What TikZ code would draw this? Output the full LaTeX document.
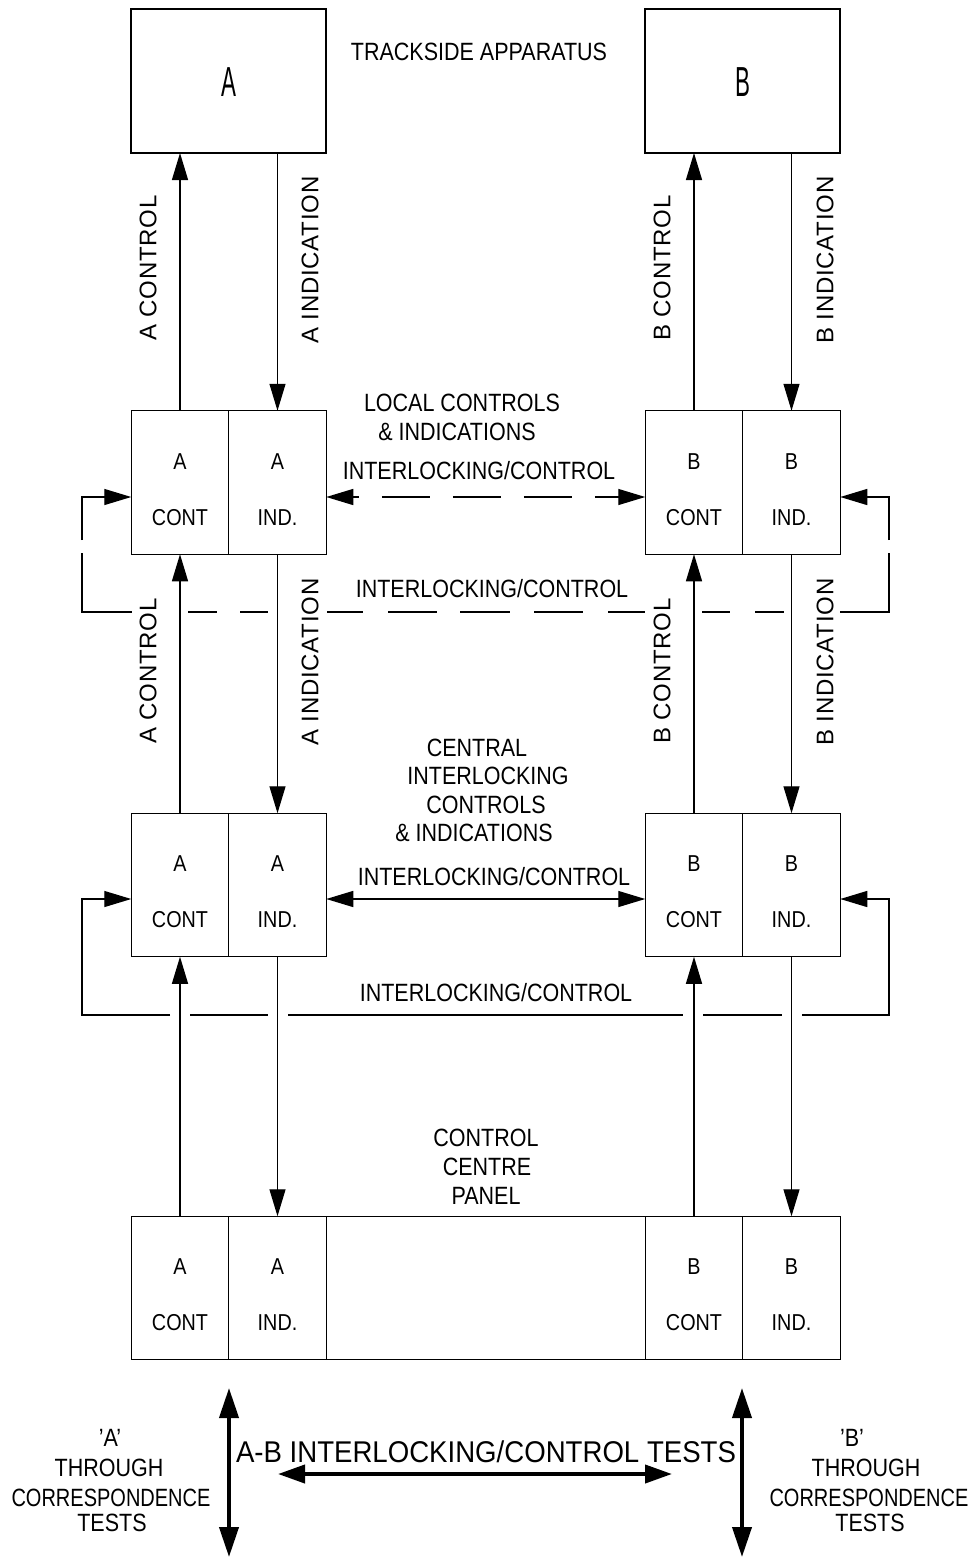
\documentclass[tikz,border=0pt]{standalone}
\usepackage{fontspec}
\usepackage{graphicx}
\setmainfont{Liberation Sans}[FakeStretch=0.86]
\newfontfamily\widefont{Liberation Sans}[LetterSpace=3]
\newfontfamily\bigfont{Liberation Sans}[FakeStretch=0.92]
\newfontfamily\narrowfont{Liberation Sans}[FakeStretch=0.8]
\usetikzlibrary{arrows.meta}
\tikzset{
  ln/.style={line width=1.3pt, black},
  arr/.style={ln, -{Triangle[length=27pt,width=16pt]}},
  darr/.style={ln, {Triangle[length=27pt,width=16pt]}-{Triangle[length=27pt,width=16pt]}},
  thick arr/.style={line width=4pt, {Triangle[length=30pt,width=19pt]}-{Triangle[length=30pt,width=19pt]}},
  bigbox/.style={draw, line width=1.3pt, minimum width=195pt, minimum height=144pt, inner sep=0pt, outer sep=0pt},
  cellbox/.style={draw, line width=1.3pt, minimum width=97.5pt, minimum height=143.5pt, inner sep=0pt, outer sep=0pt},
  lab/.style={inner sep=0pt, font=\fontsize{25}{28}\selectfont},
  nlab/.style={inner sep=0pt, font=\narrowfont\fontsize{25}{28}\selectfont},
  celltxt/.style={inner sep=0pt, font=\fontsize{23}{26}\selectfont},
  vlab/.style={inner sep=0pt, rotate=90, font=\widefont\fontsize{24}{27}\selectfont},
  biglab/.style={inner sep=0pt, font=\bigfont\fontsize{30}{33}\selectfont},
}
\newcommand\mkcell[4]{%
  \node[cellbox] (#1) at (#2) {};
  \node[celltxt] (#1t) at ([yshift=21pt]#1.center) {#3};
  \node[celltxt] (#1b) at ([yshift=-35pt]#1.center) {#4};
}
\begin{document}
\begin{tikzpicture}[x=1pt,y=-1pt]
\useasboundingbox (0,0) rectangle (974,1558);

% trackside boxes
\node[bigbox] (topA) at (228.5,81) {};
\node[bigbox] (topB) at (742.5,81) {};
\node[inner sep=0pt, font=\fontsize{42}{44}\selectfont] (topAt) at (228.5,82) {\scalebox{0.62}[1]{A}};
\node[inner sep=0pt, font=\fontsize{42}{44}\selectfont] (topBt) at (742.5,82) {\scalebox{0.62}[1]{B}};
\node[lab] (track) at (479,52) {TRACKSIDE APPARATUS};

% row 2
\mkcell{acont2}{180,482.5}{A}{CONT}
\mkcell{aind2}{277.5,482.5}{A}{IND.}
\mkcell{bcont2}{694,482.5}{B}{CONT}
\mkcell{bind2}{791.5,482.5}{B}{IND.}
% row 3
\mkcell{acont3}{180,885}{A}{CONT}
\mkcell{aind3}{277.5,885}{A}{IND.}
\mkcell{bcont3}{694,885}{B}{CONT}
\mkcell{bind3}{791.5,885}{B}{IND.}
% row 4
\mkcell{acont4}{180,1288}{A}{CONT}
\mkcell{aind4}{277.5,1288}{A}{IND.}
\node[cellbox, minimum width=319pt] (panelmid) at (485.75,1288) {};
\mkcell{bcont4}{694,1288}{B}{CONT}
\mkcell{bind4}{791.5,1288}{B}{IND.}

% vertical connectors top <-> row 2
\draw[arr] (acont2.north) -- (acont2.north |- topA.south);
\draw[arr] (aind2.north |- topA.south) -- (aind2.north);
\draw[arr] (bcont2.north) -- (bcont2.north |- topB.south);
\draw[arr] (bind2.north |- topB.south) -- (bind2.north);
% row 2 <-> row 3
\draw[arr] (acont3.north) -- (acont2.south);
\draw[arr] (aind2.south) -- (aind3.north);
\draw[arr] (bcont3.north) -- (bcont2.south);
\draw[arr] (bind2.south) -- (bind3.north);
% row 3 <-> row 4
\draw[arr] (acont4.north) -- (acont3.south);
\draw[arr] (aind3.south) -- (aind4.north);
\draw[arr] (bcont4.north) -- (bcont3.south);
\draw[arr] (bind3.south) -- (bind4.north);

% vertical labels
\node[vlab] (lac1) at (148,268) {A CONTROL};
\node[vlab] (lai1) at (310,260) {A INDICATION};
\node[vlab] (lbc1) at (662,268) {B CONTROL};
\node[vlab] (lbi1) at (825,260) {B INDICATION};
\node[vlab] (lac2) at (148,671) {A CONTROL};
\node[vlab] (lai2) at (310,662) {A INDICATION};
\node[vlab] (lbc2) at (662,671) {B CONTROL};
\node[vlab] (lbi2) at (825,662) {B INDICATION};

% local controls labels
\node[lab] (loc1) at (462,403) {LOCAL CONTROLS};
\node[lab] (loc2) at (457,432) {\& INDICATIONS};
\node[lab] (il2) at (479,471) {INTERLOCKING/CONTROL};
\draw[darr, dash pattern=on 48pt off 23pt, dash phase=42pt] ([yshift=-14.5pt]aind2.east) -- ([yshift=-14.5pt]bcont2.west);

% dashed loop row 2
\node[lab] (il2b) at (492,589) {INTERLOCKING/CONTROL};
\coordinate (lp2a) at (82,540);
\coordinate (lp2b) at (889,540);
\draw[arr] (lp2a) -- (82,497) -- ([yshift=-14.5pt]acont2.west);
\draw[ln] (82,553) -- (82,612) -- (132,612);
\foreach \a/\b in {188/217,240/268,327/363,388/437,460/510,534/583,608/645,702/730,755/784}
  \draw[ln] (\a,612) -- (\b,612);
\draw[ln] (840,612) -- (889,612) -- (889,553);
\draw[arr] (lp2b) -- (889,497) -- ([yshift=-14.5pt]bind2.east);

% central interlocking labels
\node[lab] (ci1) at (477,748) {CENTRAL};
\node[lab] (ci2) at (488,776) {INTERLOCKING};
\node[lab] (ci3) at (486,805) {CONTROLS};
\node[lab] (ci4) at (474,833) {\& INDICATIONS};
\node[lab] (il3) at (494,877) {INTERLOCKING/CONTROL};
\draw[darr] ([yshift=-14pt]aind3.east) -- ([yshift=-14pt]bcont3.west);

% loop row 3
\node[lab] (il3b) at (496,993) {INTERLOCKING/CONTROL};
\coordinate (lp3a) at (170,1015);
\coordinate (lp3b) at (802,1015);
\draw[arr] (lp3a) -- (82,1015) -- (82,899) -- ([yshift=-14pt]acont3.west);
\draw[ln] (190,1015) -- (268,1015);
\draw[ln] (288,1015) -- (683,1015);
\draw[ln] (703,1015) -- (782,1015);
\draw[arr] (lp3b) -- (889,1015) -- (889,899) -- ([yshift=-14pt]bind3.east);

% control centre panel labels
\node[lab] (cc1) at (486,1138) {CONTROL};
\node[lab] (cc2) at (487,1167) {CENTRE};
\node[lab] (cc3) at (486,1196) {PANEL};

% bottom tests
\coordinate (ta1) at (229,1388);
\coordinate (ta2) at (229,1557);
\coordinate (tb1) at (742,1388);
\coordinate (tb2) at (742,1557);
\coordinate (th1) at (278,1474);
\coordinate (th2) at (672,1474);
\draw[thick arr] (ta1) -- (ta2);
\draw[thick arr] (tb1) -- (tb2);
\draw[line width=4pt, {Triangle[length=27pt,width=18pt]}-{Triangle[length=27pt,width=18pt]}] (th1) -- (th2);
\node[biglab] (abtests) at (486,1452) {A-B INTERLOCKING/CONTROL TESTS};

\node[lab] (at1) at (110,1438) {'A'};
\node[lab] (at2) at (109,1468) {THROUGH};
\node[nlab] (at3) at (111,1498) {CORRESPONDENCE};
\node[lab] (at4) at (112,1523) {TESTS};
\node[lab] (bt1) at (852,1438) {'B'};
\node[lab] (bt2) at (866,1468) {THROUGH};
\node[nlab] (bt3) at (869,1498) {CORRESPONDENCE};
\node[lab] (bt4) at (870,1523) {TESTS};
\end{tikzpicture}
\end{document}
